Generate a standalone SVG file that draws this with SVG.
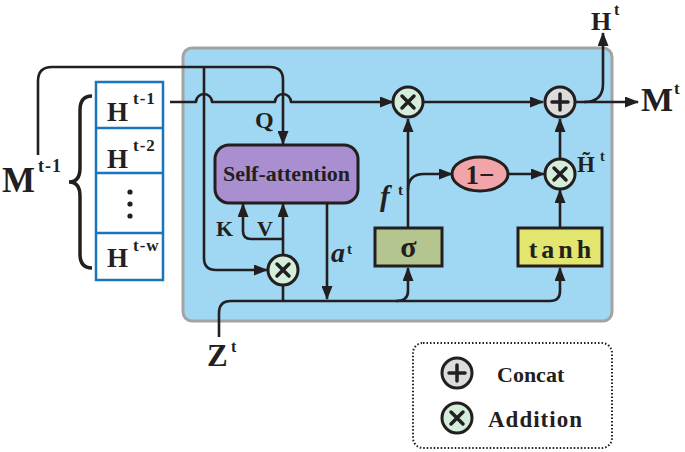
<svg xmlns="http://www.w3.org/2000/svg" width="685" height="452" viewBox="0 0 685 452">
<defs>
<marker id="ah" viewBox="0 0 14 11" refX="13" refY="5.5" markerWidth="14" markerHeight="11" markerUnits="userSpaceOnUse" orient="auto">
<path d="M0,0 L14,5.5 L0,11 z" fill="#231f20"/>
</marker>
<style>
.ln{fill:none;stroke:#231f20;stroke-width:2.6;stroke-linejoin:round}
.ar{marker-end:url(#ah)}
.t{font-family:"Liberation Serif","Times New Roman",serif;font-weight:bold;fill:#231f20}
.i{font-style:italic}
.box{stroke:#231f20;stroke-width:3}
.mul{fill:#d5eddb;stroke:#231f20;stroke-width:3}
.add{fill:#dcdcdc;stroke:#231f20;stroke-width:3}
.sym{stroke:#231f20;stroke-width:3.5;stroke-linecap:round;fill:none}
.cell{fill:#ffffff;stroke:#1a75bb;stroke-width:2.5}
</style>
</defs>
<rect id="cell-bg" x="0" y="0" width="685" height="452" fill="#ffffff"/>
<g id="cell-box">
<rect x="183" y="48" width="429" height="273" rx="9" fill="#a0d7f3" stroke="#a3a3a3" stroke-width="3"/>
</g>
<g id="memory">
<rect class="cell" x="96" y="82" width="67" height="198"/>
<line class="cell" x1="96" y1="128" x2="163" y2="128"/>
<line class="cell" x1="96" y1="173" x2="163" y2="173"/>
<line class="cell" x1="96" y1="233" x2="163" y2="233"/>
<text class="t" x="107" y="121" font-size="27">H</text>
<text class="t" x="133" y="104" font-size="17" letter-spacing="1">t-1</text>
<text class="t" x="107" y="168" font-size="27">H</text>
<text class="t" x="133" y="151" font-size="17" letter-spacing="1">t-2</text>
<circle cx="130" cy="192" r="2.6" fill="#231f20"/>
<circle cx="130" cy="204" r="2.6" fill="#231f20"/>
<circle cx="130" cy="216" r="2.6" fill="#231f20"/>
<text class="t" x="107" y="267" font-size="27">H</text>
<text class="t" x="133" y="251" font-size="17" letter-spacing="1">t-w</text>
<path d="M92 96 Q80 96 80 110 V168 Q80 182 69 182 Q80 182 80 196 V254 Q80 268 92 268" fill="none" stroke="#231f20" stroke-width="3.5"/>
<text class="t" x="2" y="192" font-size="35">M</text>
<text class="t" x="38" y="172" font-size="18" letter-spacing="1">t-1</text>
</g>
<g id="connectors">
<path class="ln ar" d="M38 155 V81 Q38 67 52 67 H270 Q283 67 283 80 V144"/>
<path class="ln ar" d="M204 67 V258 Q204 270 216 270 H267"/>
<path class="ln ar" d="M170 102 H196 A8 8 0 0 1 212 102 H275 A8 8 0 0 1 291 102 H393"/>
<path class="ln ar" d="M283 255 V204"/>
<path class="ln ar" d="M283 239 H251 Q243 239 243 231 V204"/>
<path class="ln ar" d="M327 203 V299"/>
<path class="ln" d="M283 285 V301"/>
<path class="ln ar" d="M219 337 V313 Q219 301 231 301 H550 Q560 301 560 291 V268"/>
<path class="ln ar" d="M396 301 Q408 301 408 291 V268"/>
<path class="ln ar" d="M408 228 V119"/>
<path class="ln ar" d="M408 190 Q408 174 424 174 H452"/>
<path class="ln ar" d="M508 174 H544"/>
<path class="ln ar" d="M560 228 V190"/>
<path class="ln ar" d="M560 159 V119"/>
<path class="ln ar" d="M424 102 H543"/>
<path class="ln ar" d="M576 102 H638"/>
<path class="ln ar" d="M584 102 Q603 102 603 84 V33"/>
</g>
<g id="self-attention">
<rect x="215" y="145" width="143" height="58" rx="14" fill="#a98fcf" class="box"/>
<text class="t" x="286.5" y="181" font-size="22" text-anchor="middle">Self-attention</text>
</g>
<g id="labels-attn">
<text class="t" x="255" y="128" font-size="24">Q</text>
<text class="t" x="216" y="236" font-size="22">K</text>
<text class="t" x="257" y="236" font-size="22">V</text>
<text class="t i" x="331" y="262" font-size="28">a</text>
<text class="t" x="347" y="254" font-size="15">t</text>
</g>
<g id="mul-attn">
<circle class="mul" cx="283" cy="270" r="15"/>
<path class="sym" d="M277 264 L289 276 M289 264 L277 276"/>
</g>
<g id="mul-forget">
<circle class="mul" cx="408" cy="102" r="15"/>
<path class="sym" d="M402 96 L414 108 M414 96 L402 108"/>
</g>
<g id="sigma">
<rect x="375" y="228" width="67" height="38" fill="#b4c58f" class="box"/>
<text class="t" x="408.5" y="257" font-size="30" text-anchor="middle">σ</text>
<text class="t i" x="380" y="206" font-size="29">f</text>
<text class="t" x="398" y="195" font-size="15">t</text>
</g>
<g id="one-minus">
<ellipse cx="480" cy="174" rx="28" ry="17" fill="#f2a5a8" class="box"/>
<text class="t" x="480" y="183.5" font-size="27" text-anchor="middle">1−</text>
</g>
<g id="mul-candidate">
<circle class="mul" cx="560" cy="174" r="15"/>
<path class="sym" d="M554 168 L566 180 M566 168 L554 180"/>
<text class="t" x="577" y="172" font-size="23">H̃</text>
<text class="t" x="600" y="161" font-size="14">t</text>
</g>
<g id="tanh">
<rect x="518" y="228" width="84" height="38" fill="#e2e66e" class="box"/>
<text class="t" x="562" y="258" font-size="26" letter-spacing="4" text-anchor="middle">tanh</text>
</g>
<g id="concat">
<circle class="add" cx="560" cy="102" r="15"/>
<path class="sym" d="M560 94 V110 M552 102 H568"/>
</g>
<g id="outputs">
<text class="t" x="591" y="30" font-size="26">H</text>
<text class="t" x="614" y="15" font-size="16">t</text>
<text class="t" x="641" y="111" font-size="34">M</text>
<text class="t" x="674" y="94" font-size="17">t</text>
</g>
<g id="input-z">
<text class="t" x="207" y="366" font-size="31">Z</text>
<text class="t" x="231" y="352" font-size="16">t</text>
</g>
<g id="legend">
<rect x="413" y="343" width="199" height="105" rx="10" fill="none" stroke="#231f20" stroke-width="2" stroke-dasharray="1.5 2"/>
<circle class="add" cx="457" cy="373" r="15"/>
<path class="sym" d="M457 365 V381 M449 373 H465"/>
<text class="t" x="497" y="382" font-size="22">Concat</text>
<circle class="mul" cx="457" cy="418" r="15"/>
<path class="sym" d="M451 412 L463 424 M463 412 L451 424"/>
<text class="t" x="488" y="427" font-size="23" letter-spacing="1">Addition</text>
</g>
</svg>
